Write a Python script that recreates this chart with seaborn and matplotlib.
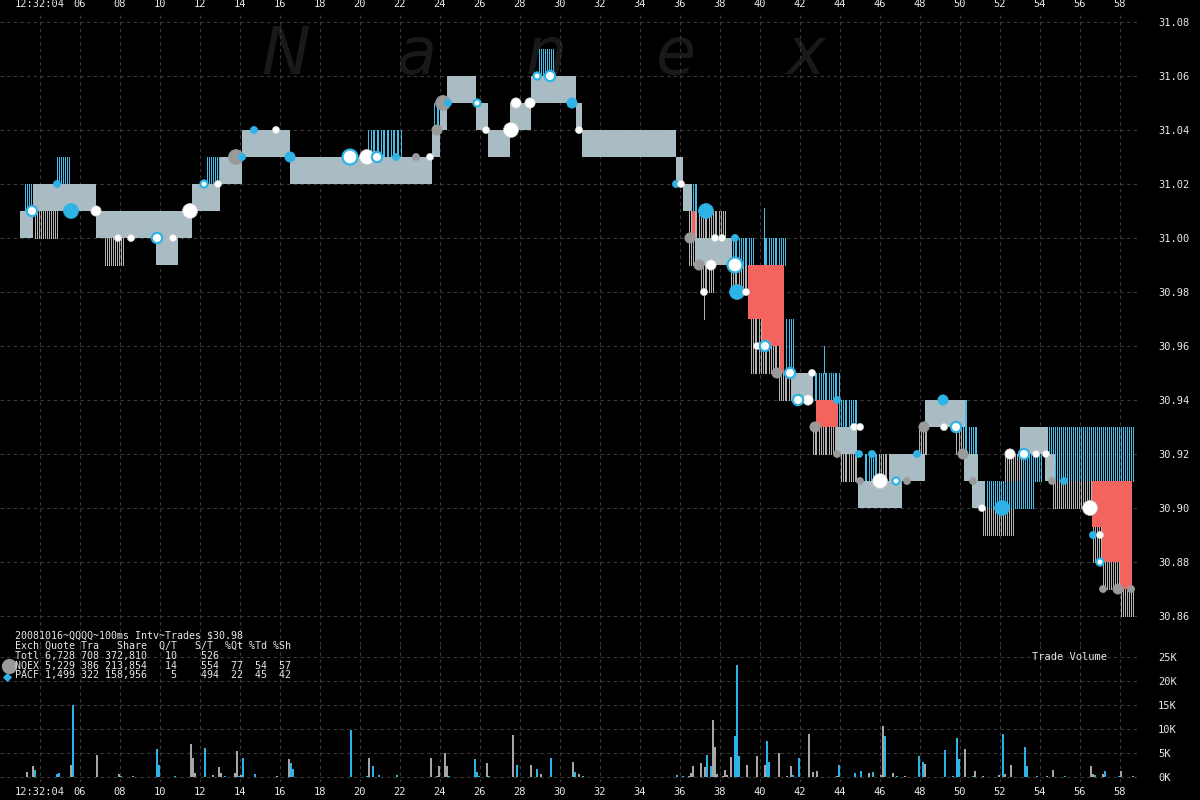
import numpy as np
import matplotlib
matplotlib.use("Agg")
import matplotlib.pyplot as plt
import seaborn as sns

# ---------------- data (seconds after 12:32:00, prices in $) ----------------
# inner NBBO band segments
band_t0 = [3.0, 3.65, 6.8, 9.8, 11.6, 13.0, 14.1, 16.5, 23.6, 24.0, 24.35, 25.8, 26.4, 27.5, 28.55,
           30.8, 31.1, 35.8, 36.15, 36.75, 41.6, 43.85, 44.9, 46.5, 48.25, 50.2, 50.6, 53.0, 54.25]
band_t1 = [3.65, 6.8, 11.6, 10.9, 13.0, 14.1, 16.5, 23.6, 24.0, 24.35, 25.8, 26.4, 27.5, 28.55, 30.8,
           31.1, 35.8, 36.15, 36.6, 38.6, 42.65, 44.85, 47.1, 48.25, 50.25, 50.9, 51.25, 54.4, 54.75]
band_lo = [31.00, 31.01, 31.00, 30.99, 31.01, 31.02, 31.03, 31.02, 31.03, 31.04, 31.05, 31.04, 31.03, 31.04, 31.05,
           31.04, 31.03, 31.02, 31.01, 30.99, 30.94, 30.92, 30.90, 30.91, 30.93, 30.91, 30.90, 30.92, 30.91]
band_hi = [31.01, 31.02, 31.01, 31.00, 31.02, 31.03, 31.04, 31.03, 31.04, 31.05, 31.06, 31.05, 31.04, 31.05, 31.06,
           31.05, 31.04, 31.03, 31.02, 31.00, 30.95, 30.93, 30.91, 30.92, 30.94, 30.92, 30.91, 30.93, 30.92]

# exchange quote stripes (c = cyan / PACF, g = gray / NQEX)
strip_t0 = [3.15, 3.7, 4.75, 7.2, 12.25, 20.35, 23.65, 28.85, 36.4, 36.55, 36.85, 37.0, 38.5, 38.6, 40.15,
            39.5, 40.25, 41.25, 40.9, 42.65, 42.6, 43.9, 44.0, 45.15, 45.85, 47.9, 49.8, 50.0, 50.2,
            51.25, 51.1, 52.2, 52.6, 53.1, 54.4, 54.6, 56.6, 57.1, 58.0]
strip_t1 = [3.65, 4.8, 5.4, 8.15, 12.95, 22.0, 24.0, 29.65, 36.85, 36.85, 38.25, 37.65, 39.4, 39.65, 41.2,
            40.25, 41.0, 41.65, 41.6, 43.9, 43.9, 44.85, 44.85, 45.85, 46.5, 48.35, 50.2, 50.3, 50.8,
            52.5, 52.65, 53.1, 53.65, 54.0, 58.65, 56.6, 57.1, 58.0, 58.65]
strip_lo = [31.01, 31.00, 31.02, 30.99, 31.02, 31.03, 31.04, 31.06, 30.99, 31.01, 31.00, 30.98, 30.98, 30.99, 30.99,
            30.95, 30.95, 30.95, 30.94, 30.94, 30.92, 30.93, 30.91, 30.91, 30.91, 30.92, 30.92, 30.93, 30.92,
            30.90, 30.89, 30.91, 30.90, 30.91, 30.91, 30.90, 30.88, 30.87, 30.86]
strip_hi = [31.02, 31.01, 31.03, 31.00, 31.03, 31.04, 31.05, 31.07, 31.01, 31.02, 31.01, 30.99, 30.99, 31.00, 31.00,
            30.97, 30.96, 30.97, 30.95, 30.95, 30.93, 30.94, 30.92, 30.92, 30.92, 30.93, 30.93, 30.94, 30.93,
            30.91, 30.90, 30.92, 30.91, 30.92, 30.93, 30.91, 30.90, 30.88, 30.87]
strip_ex = ['c', 'g', 'c', 'g', 'c', 'c', 'c', 'c', 'g', 'c', 'g', 'g', 'g', 'c', 'c',
            'g', 'g', 'c', 'g', 'c', 'g', 'c', 'g', 'c', 'g', 'g', 'g', 'c', 'c',
            'c', 'g', 'g', 'c', 'c', 'c', 'g', 'g', 'g', 'g']

# single quote spikes
spike_t = [37.15, 40.15, 43.15]
spike_lo = [30.97, 30.99, 30.95]
spike_hi = [30.98, 31.011, 30.96]
spike_ex = ['g', 'c', 'c']

# crossed / locked regions (red)
red_t0 = [36.6, 39.4, 40.1, 41.0, 42.8, 56.6, 57.1, 58.0]
red_t1 = [36.75, 40.1, 41.0, 41.2, 43.9, 57.1, 58.0, 58.6]
red_lo = [31.00, 30.97, 30.96, 30.95, 30.93, 30.893, 30.88, 30.87]
red_hi = [31.01, 30.99, 30.99, 30.99, 30.94, 30.91, 30.91, 30.91]

# trades: time, price, size class, style (w white, c cyan, g gray, r white ring)
trade_t = [3.6, 4.85, 5.55, 6.8, 7.9, 8.55, 9.85, 10.65, 11.5, 12.2, 12.9, 13.8, 14.1, 14.7, 15.8, 16.5,
           19.5, 20.35, 20.85, 21.8, 22.8, 23.5, 23.85, 24.15, 24.4, 25.85, 26.3, 27.55, 27.8, 28.5,
           28.85, 29.5, 30.6, 30.95, 35.8, 36.05, 36.5, 37.3, 37.75, 38.1, 38.75, 36.95, 37.55, 38.75,
           37.2, 38.85, 39.3, 39.85, 40.25, 40.85, 41.5, 42.6, 41.9, 42.4, 43.85, 42.75, 44.7, 45.0,
           43.85, 44.95, 45.6, 45.0, 46.0, 46.8, 47.35, 47.85, 48.2, 49.15, 49.2, 49.8, 50.15, 50.65,
           51.1, 52.1, 52.5, 53.2, 53.8, 54.3, 54.6, 55.2, 56.5, 56.65, 57.0, 57.0, 57.15, 57.9, 58.55]
trade_p = [31.01, 31.02, 31.01, 31.01, 31.00, 31.00, 31.00, 31.00, 31.01, 31.02, 31.02, 31.03, 31.03, 31.04,
           31.04, 31.03, 31.03, 31.03, 31.03, 31.03, 31.03, 31.03, 31.04, 31.05, 31.05, 31.05, 31.04,
           31.04, 31.05, 31.05, 31.06, 31.06, 31.05, 31.04, 31.02, 31.02, 31.00, 31.01, 31.00, 31.00,
           31.00, 30.99, 30.99, 30.99, 30.98, 30.98, 30.98, 30.96, 30.96, 30.95, 30.95, 30.95, 30.94,
           30.94, 30.94, 30.93, 30.93, 30.93, 30.92, 30.92, 30.92, 30.91, 30.91, 30.91, 30.91, 30.92,
           30.93, 30.94, 30.93, 30.93, 30.92, 30.91, 30.90, 30.90, 30.92, 30.92, 30.92, 30.92, 30.91,
           30.91, 30.90, 30.89, 30.89, 30.88, 30.87, 30.87, 30.87]
trade_sz = ['M', 'S', 'L', 'M', 'S', 'S', 'M', 'S', 'L', 'S', 'S', 'L', 'S', 'S', 'S', 'M',
            'L', 'L', 'M', 'S', 'S', 'S', 'M', 'L', 'S', 'S', 'S', 'L', 'M', 'M',
            'S', 'M', 'M', 'S', 'S', 'S', 'M', 'L', 'S', 'S', 'S', 'M', 'M', 'L',
            'S', 'L', 'S', 'S', 'M', 'M', 'M', 'S', 'M', 'M', 'S', 'M', 'S', 'S',
            'S', 'S', 'S', 'S', 'L', 'S', 'S', 'S', 'M', 'M', 'S', 'M', 'M', 'S',
            'S', 'L', 'M', 'M', 'S', 'S', 'S', 'S', 'L', 'S', 'S', 'S', 'S', 'M', 'S']
trade_st = ['r', 'c', 'c', 'w', 'w', 'w', 'r', 'w', 'w', 'r', 'w', 'g', 'c', 'c', 'w', 'c',
            'r', 'w', 'r', 'c', 'g', 'w', 'g', 'g', 'c', 'r', 'w', 'w', 'w', 'w',
            'r', 'r', 'c', 'w', 'c', 'w', 'g', 'c', 'w', 'w', 'c', 'g', 'w', 'r',
            'w', 'c', 'w', 'w', 'r', 'g', 'r', 'w', 'r', 'w', 'c', 'g', 'w', 'w',
            'g', 'c', 'c', 'g', 'w', 'r', 'g', 'c', 'g', 'c', 'w', 'r', 'g', 'g',
            'w', 'c', 'w', 'r', 'w', 'w', 'g', 'c', 'w', 'c', 'w', 'r', 'g', 'g', 'g']

# trade volume per 100ms interval (thousands of shares)
vol_t = [3.3, 3.6, 3.7, 4.8, 4.9, 5.5, 5.6, 6.8, 7.9, 8.0, 8.6, 9.8, 9.9, 10.7, 11.5, 11.6, 11.7, 12.2,
         12.6, 12.9, 13.0, 13.2, 13.7, 13.8, 13.9, 14.0, 14.1, 14.7, 15.8, 16.4, 16.5, 16.6, 19.5,
         20.3, 20.4, 20.6, 20.9, 21.8, 23.5, 23.8, 23.9, 24.2, 24.3, 24.4, 25.7, 25.8, 25.9, 26.3,
         26.4, 27.6, 27.8, 28.5, 28.8, 29.0, 29.5, 30.6, 30.7, 30.9, 31.1, 35.8, 36.1, 36.4, 36.5,
         36.6, 37.0, 37.2, 37.3, 37.5, 37.6, 37.7, 37.8, 38.1, 38.2, 38.3, 38.5, 38.7, 38.8, 38.9,
         39.3, 39.8, 40.2, 40.3, 40.4, 40.9, 41.3, 41.5, 41.6, 41.9, 42.4, 42.6, 42.8, 43.8, 43.9,
         44.7, 45.0, 45.4, 45.6, 46.0, 46.1, 46.2, 46.6, 46.8, 47.2, 47.9, 48.1, 48.2, 49.2, 49.6,
         49.8, 49.9, 50.2, 50.6, 50.7, 51.1, 51.9, 52.1, 52.2, 52.5, 53.2, 53.3, 53.8, 54.3, 54.6,
         55.2, 56.5, 56.6, 56.7, 57.1, 57.2, 57.9, 58.0, 58.6]
vol_k = [1.1, 2.3, 1.5, 0.7, 0.9, 2.6, 15.0, 4.6, 0.7, 0.2, 0.2, 5.9, 2.6, 0.3, 6.9, 4.0, 0.9, 6.1,
         0.5, 2.0, 0.9, 0.2, 0.9, 5.5, 0.3, 0.4, 4.0, 0.7, 0.3, 3.8, 3.0, 1.7, 9.8,
         0.3, 4.0, 2.2, 0.5, 0.5, 4.0, 0.3, 2.3, 5.0, 2.3, 0.2, 3.8, 1.1, 0.3, 3.0,
         0.2, 8.7, 2.6, 2.6, 1.7, 0.7, 4.0, 3.2, 1.1, 0.7, 0.2, 0.5, 0.3, 0.2, 0.9,
         2.2, 3.0, 2.0, 4.6, 2.2, 11.9, 6.3, 0.7, 0.3, 1.5, 0.5, 4.2, 8.5, 23.3, 4.4,
         2.6, 4.4, 2.6, 7.5, 3.2, 5.0, 0.3, 2.3, 0.5, 4.0, 8.9, 1.1, 1.3, 0.3, 2.6,
         0.9, 1.3, 0.9, 1.1, 0.5, 10.6, 8.5, 0.9, 0.2, 0.2, 4.4, 3.2, 2.8, 5.6, 0.3,
         8.1, 3.8, 5.9, 0.3, 1.3, 0.2, 0.5, 8.9, 0.7, 2.6, 6.3, 2.3, 0.3, 0.3, 1.5,
         0.2, 2.3, 0.7, 0.5, 0.7, 1.3, 0.2, 1.3, 0.2]
vol_ex = ['g', 'g', 'c', 'c', 'c', 'g', 'c', 'g', 'g', 'c', 'g', 'c', 'c', 'c', 'g', 'g', 'g', 'c',
          'g', 'g', 'g', 'c', 'g', 'g', 'c', 'g', 'c', 'c', 'g', 'g', 'c', 'c', 'c',
          'c', 'g', 'c', 'c', 'c', 'g', 'g', 'g', 'g', 'g', 'c', 'c', 'c', 'c', 'g',
          'c', 'g', 'c', 'g', 'c', 'g', 'c', 'g', 'c', 'g', 'c', 'c', 'c', 'g', 'g',
          'g', 'g', 'g', 'c', 'c', 'g', 'g', 'g', 'g', 'g', 'g', 'g', 'c', 'c', 'c',
          'g', 'g', 'g', 'c', 'c', 'g', 'g', 'g', 'c', 'c', 'g', 'g', 'g', 'g', 'c',
          'c', 'c', 'g', 'c', 'g', 'g', 'c', 'g', 'c', 'g', 'c', 'c', 'g', 'c', 'c',
          'c', 'c', 'g', 'c', 'g', 'g', 'g', 'c', 'g', 'g', 'c', 'c', 'c', 'g', 'g',
          'c', 'g', 'g', 'c', 'g', 'c', 'c', 'g', 'g']

x_ticks = list(range(4, 59, 2))
x_labels = ['12:32:04'] + ['%02d' % s for s in range(6, 59, 2)]
price_ticks = [30.86, 30.88, 30.90, 30.92, 30.94, 30.96, 30.98, 31.00, 31.02, 31.04, 31.06, 31.08]
vol_ticks = [0, 5000, 10000, 15000, 20000, 25000]
vol_labels = ['0K', '5K', '10K', '15K', '20K', '25K']

info_lines = ["20081016~QQQQ~100ms Intv~Trades $30.98",
              "Exch Quote Tra   Share  Q/T   S/T  %Qt %Td %Sh",
              "Totl 6,728 708 372,810   10    526",
              "NQEX 5,229 386 213,854   14    554  77  54  57",
              "PACF 1,499 322 158,956    5    494  22  45  42"]
watermark = ['N', 'a', 'n', 'e', 'x']

# ---------------- style ----------------
sns.set_theme(style="dark")
plt.rcParams['font.family'] = ['DejaVu Sans Mono', 'DejaVu Sans']
CYAN = '#2fb3e6'
STRIPE_C = '#45bfe9'
STRIPE_G = '#b4b4b4'
GRAY = '#a6a6a6'
RED = '#f4645f'
BAND = '#a9bcc3'
GRID = '#3a3a3a'
TXT = '#e8e8e8'
excol = {'c': CYAN, 'g': GRAY}
stripecol = {'c': STRIPE_C, 'g': STRIPE_G}

W, H = 1200, 800
fig = plt.figure(figsize=(12, 8), dpi=100, facecolor='black')

# background axes for watermark
axb = fig.add_axes([0, 0, 1, 1])
axb.set_xlim(0, W); axb.set_ylim(H, 0); axb.axis('off')
axb.set_zorder(0)
for i, ch in enumerate(watermark):
    axb.text(286 + 130 * i, 74, ch, fontsize=47, style='italic', color='#191919',
             ha='center', va='baseline', family='DejaVu Sans')

P_TOP, P_BOT = 12, 645
V_TOP, V_BOT = 645, 782
XR = 1140
axp = fig.add_axes([0, 1 - P_BOT / H, XR / W, (P_BOT - P_TOP) / H])
axv = fig.add_axes([0, 1 - V_BOT / H, XR / W, (V_BOT - V_TOP) / H], sharex=axp)
for ax in (axp, axv):
    ax.set_zorder(1)
    ax.patch.set_alpha(0)
    for sp in ax.spines.values():
        sp.set_visible(False)
    ax.grid(True, color=GRID, linestyle=(0, (3, 3)), linewidth=0.8)
    ax.set_axisbelow(True)

def price_at(ypx):
    return 31.00 + (238 - ypx) / 2700.0

def vol_at(ypx):
    return (777 - ypx) * 5000.0 / 24.0

axp.set_xlim(2, 59)
axp.set_ylim(price_at(P_BOT), price_at(P_TOP))
axv.set_ylim(vol_at(V_BOT), vol_at(V_TOP))

# NBBO band
axp.bar(band_t0, np.array(band_hi) - np.array(band_lo), bottom=band_lo,
        width=np.array(band_t1) - np.array(band_t0), align='edge', color=BAND, linewidth=0, zorder=2)

# quote stripes: one 1-px line per 100 ms interval, aligned to pixel centres
def stripe_x(t0, t1):
    k0 = np.ceil((t0 - 2) * 10 - 1e-6)
    k1 = np.floor((t1 - 2) * 10 + 1e-6)
    return 2 + (np.arange(k0, k1 + 1) / 10.0) + 0.025

for t0, t1, lo, hi, ex in zip(strip_t0, strip_t1, strip_lo, strip_hi, strip_ex):
    xs = stripe_x(t0, t1)
    axp.vlines(xs, lo, hi, colors=stripecol[ex], linewidth=0.72, zorder=1.5, antialiased=False)
axp.vlines(np.array(spike_t) + 0.025, spike_lo, spike_hi, colors=[stripecol[e] for e in spike_ex],
           linewidth=0.72, zorder=1.5, antialiased=False)

# crossed regions
axp.bar(red_t0, np.array(red_hi) - np.array(red_lo), bottom=red_lo,
        width=np.array(red_t1) - np.array(red_t0), align='edge', color=RED, linewidth=0, zorder=2.5)

# trades
sizes = {'S': 26, 'M': 55, 'L': 115}
styles = {'w': ('white', '#cfcfcf', 0.5), 'c': (CYAN, CYAN, 0.5),
          'g': ('#9a9a9a', '#9a9a9a', 0.5), 'r': ('white', CYAN, 1.6)}
tt = np.array(trade_t); tp = np.array(trade_p)
tsz = np.array(trade_sz); tst = np.array(trade_st)
for key in ['g', 'c', 'w', 'r']:
    m = tst == key
    fc, ec, lw = styles[key]
    sns.scatterplot(x=tt[m], y=tp[m], size=tsz[m], sizes=sizes, size_order=['L', 'M', 'S'],
                    color=fc, edgecolor=ec, linewidth=lw, legend=False, ax=axp, zorder=4)

# volume
axv.bar(vol_t, np.array(vol_k) * 1000, width=0.1, align='edge',
        color=[excol[e] for e in vol_ex], linewidth=0, zorder=2)

# ticks
axp.set_xticks(x_ticks)
axp.set_xticklabels(x_labels)
axp.xaxis.set_ticks_position('top')
axp.tick_params(axis='x', which='both', length=0, pad=2, labelsize=7.5, colors=TXT,
                labeltop=True, labelbottom=False)
axp.set_yticks(price_ticks)
axp.set_yticklabels(['%.2f' % p for p in price_ticks])
axp.yaxis.tick_right()
axp.tick_params(axis='y', length=0, pad=13, labelsize=7.5, colors=TXT)

axv.set_xticks(x_ticks)
axv.set_xticklabels(x_labels)
axv.tick_params(axis='x', length=0, pad=3.5, labelsize=7.5, colors=TXT, labelbottom=True)
axv.set_yticks(vol_ticks)
axv.set_yticklabels(vol_labels)
axv.yaxis.tick_right()
axv.tick_params(axis='y', length=0, pad=13, labelsize=7.5, colors=TXT)
for ax in (axp, axv):
    ax.set_xlabel(''); ax.set_ylabel('')

# overlay text
axo = fig.add_axes([0, 0, 1, 1])
axo.set_xlim(0, W); axo.set_ylim(H, 0); axo.axis('off')
axo.set_zorder(3)
for i, line in enumerate(info_lines):
    axo.text(15, 636 + 9.8 * i, line, fontsize=7.2, color=TXT, ha='left', va='center')
axo.scatter([8.5], [666], s=120, color='#9a9a9a', marker='o', linewidth=0)
axo.scatter([7], [677], s=22, color=CYAN, marker='D', linewidth=0)
axo.text(1032, 657, 'Trade Volume', fontsize=7.5, color=TXT, ha='left', va='center')

fig.savefig('out.png', dpi=100, facecolor='black')
